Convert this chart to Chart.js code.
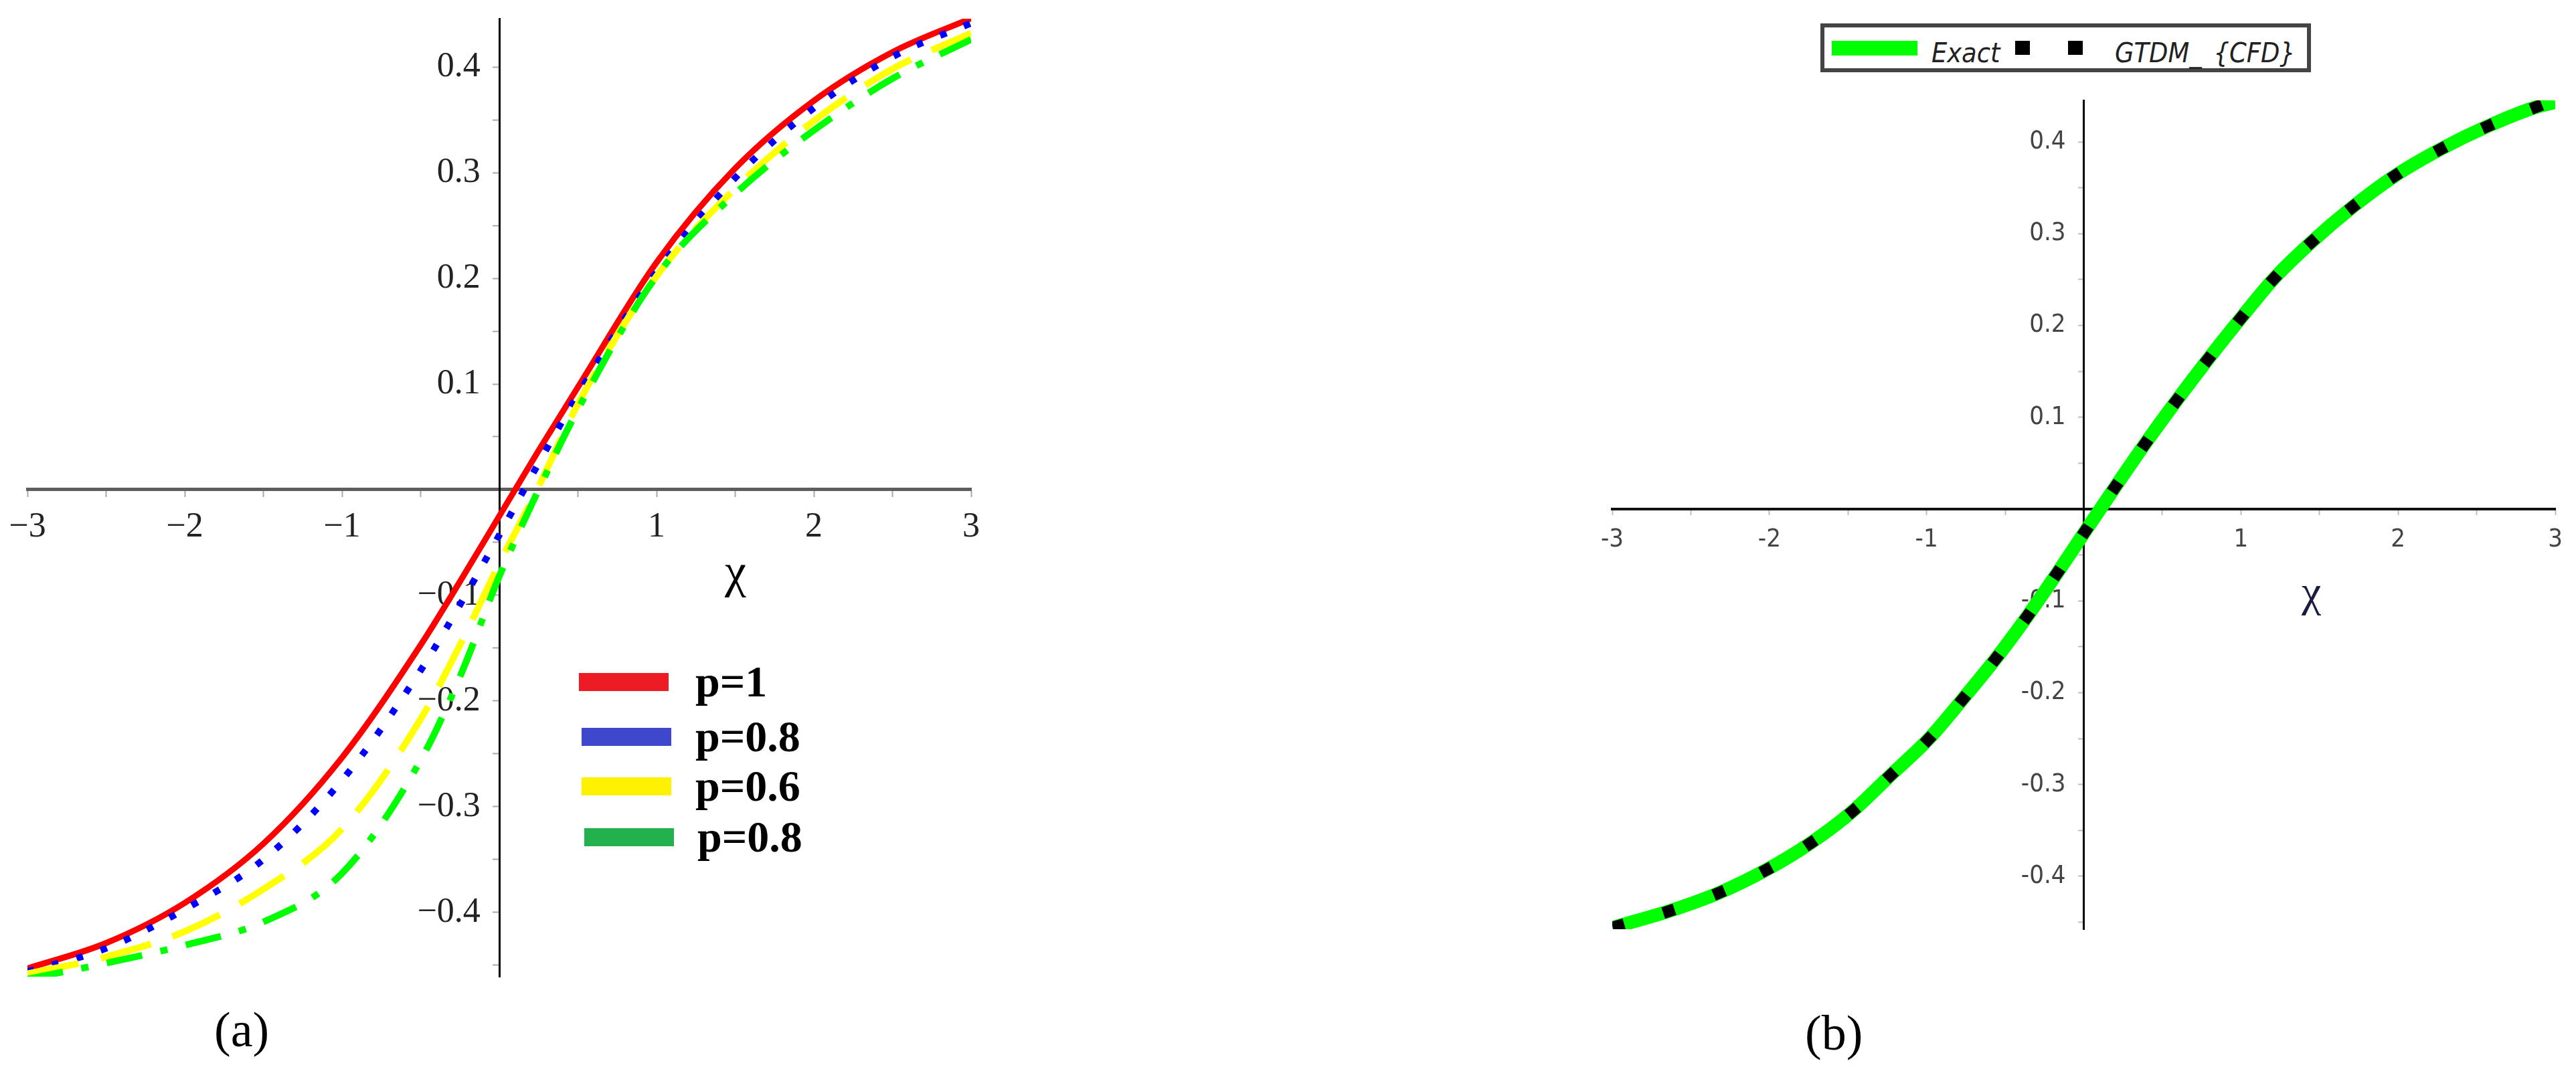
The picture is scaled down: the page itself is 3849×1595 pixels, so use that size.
<!DOCTYPE html>
<html>
<head>
<meta charset="utf-8">
<script src="https://cdn.jsdelivr.net/npm/chart.js@4.4.0/dist/chart.umd.min.js"></script>
<style>
html,body{margin:0;padding:0;background:#fff;}
#page{position:relative;width:3849px;height:1595px;overflow:hidden;background:#fff;}
canvas{position:absolute;top:0;}
.t{position:absolute;white-space:nowrap;line-height:1;margin:0;}
</style>
</head>
<body>
<div id="page">
<canvas id="chartA" width="1700" height="1595" style="left:0px"></canvas>
<canvas id="chartB" width="1749" height="1595" style="left:2100px"></canvas>
</div>
<script>
// ---------------- data ----------------
// panel (a)
const chiA = [-3, -2.5, -2, -1.5, -1, -0.5, -0.25, 0, 0.25, 0.5, 1, 1.5, 2, 2.5, 3];
const p1Values   = [-0.453, -0.429, -0.391, -0.335, -0.2535, -0.147, -0.087, -0.025, 0.037, 0.097, 0.215, 0.304, 0.368, 0.414, 0.446];
const p08Values  = [-0.456, -0.434, -0.397, -0.350, -0.275, -0.171, -0.109, -0.043, 0.025, 0.090, 0.206, 0.295, 0.361, 0.4095, 0.4415];
const p06Values  = [-0.458, -0.442, -0.418, -0.378, -0.321, -0.217, -0.147, -0.070, 0.003, 0.081, 0.202, 0.285, 0.349, 0.398, 0.432];
const p08bValues = [-0.463, -0.448, -0.431, -0.409, -0.363, -0.256, -0.177, -0.082, 0.000, 0.076, 0.202, 0.280, 0.340, 0.389, 0.426];
const seriesNamesA = ['p=1', 'p=0.8', 'p=0.6', 'p=0.8'];

// panel (b)
const chiExact   = [-3.00, -2.96, -2.64, -2.32, -2.02, -1.74, -1.47, -1.23, -0.99, -0.77, -0.56, -0.36, -0.17, 0.01, 0.20, 0.39, 0.59, 0.79, 1.00, 1.21, 1.45, 1.71, 1.98, 2.27, 2.57, 2.88, 3.00];
const exactValues = [-0.456, -0.454, -0.438, -0.418, -0.393, -0.364, -0.329, -0.290, -0.251, -0.207, -0.163, -0.117, -0.070, -0.024, 0.024, 0.071, 0.118, 0.163, 0.208, 0.251, 0.291, 0.329, 0.363, 0.392, 0.417, 0.438, 0.443];
const chiGtdm    = [-2.96, -2.64, -2.32, -2.02, -1.74, -1.47, -1.23, -0.99, -0.77, -0.56, -0.36, -0.17, 0.01, 0.20, 0.39, 0.59, 0.79, 1.00, 1.21, 1.45, 1.71, 1.98, 2.27, 2.57, 2.88];
const gtdmValues = [-0.454, -0.438, -0.418, -0.393, -0.364, -0.329, -0.290, -0.251, -0.207, -0.163, -0.117, -0.070, -0.024, 0.024, 0.071, 0.118, 0.163, 0.208, 0.251, 0.291, 0.329, 0.363, 0.392, 0.417, 0.438];
const seriesNamesB = ['Exact', 'GTDM_ {CFD}'];

// tick labels
const xTickValues = [-3, -2, -1, 1, 2, 3];
const xTickLabelsA = ['\u22123', '\u22122', '\u22121', '1', '2', '3'];
const xTickLabelsB = ['-3', '-2', '-1', '1', '2', '3'];
const originLabel = '0';
const yTickValues = [-0.4, -0.3, -0.2, -0.1, 0.1, 0.2, 0.3, 0.4];
const yTickLabelsA = ['\u22120.4', '\u22120.3', '\u22120.2', '\u22120.1', '0.1', '0.2', '0.3', '0.4'];
const yTickLabelsB = ['-0.4', '-0.3', '-0.2', '-0.1', '0.1', '0.2', '0.3', '0.4'];

// ---------------- helpers ----------------
function pts(xs, ys) { return xs.map((x, i) => ({x: x, y: ys[i]})); }
function lookup(vals, labels, v) {
  for (let i = 0; i < vals.length; i++) if (Math.abs(vals[i] - v) < 1e-6) return labels[i];
  return '';
}
function zeroPad(scale) { scale.paddingTop = 0; scale.paddingBottom = 0; scale.paddingLeft = 0; scale.paddingRight = 0; }

function buildChart(canvas, datasets, o) {
  const hidden = {display: false, drawTicks: false, drawOnChartArea: false};
  return new Chart(canvas, {
    type: 'line',
    data: {datasets: datasets},
    options: {
      responsive: false, animation: false, devicePixelRatio: 1,
      events: [],
      layout: {padding: o.padding},
      plugins: {legend: {display: false}, tooltip: {enabled: false}},
      elements: {point: {radius: 0}},
      scales: {
        // main axes: lines + tick marks, crossing at the origin
        x: {
          type: 'linear', axis: 'x', min: -3, max: 3, position: {y: 0},
          afterFit: zeroPad,
          border: {display: true, color: o.xBorderColor, width: o.xBorderWidth},
          grid: {drawOnChartArea: false, drawTicks: true, tickLength: o.tickLen, tickColor: o.tickColor, tickWidth: 2},
          ticks: {stepSize: 0.5, autoSkip: false, includeBounds: false, maxRotation: 0, minRotation: 0,
                  padding: o.xPad, color: o.labelColor, font: o.font,
                  callback: (v) => lookup(xTickValues, o.xLabels, v)}
        },
        y: {
          type: 'linear', axis: 'y', min: o.yMin, max: o.yMax, position: {x: 0},
          afterFit: zeroPad,
          border: {display: true, color: o.yBorderColor, width: o.yBorderWidth},
          grid: {drawOnChartArea: false, drawTicks: true, tickLength: o.tickLen, tickColor: o.tickColor, tickWidth: 2},
          ticks: {stepSize: 0.05, autoSkip: false, includeBounds: false, color: o.labelColor, font: o.font,
                  callback: () => ''}
        },
        // label carrier for the y tick labels, set a little left of the vertical axis
        yLab: {
          type: 'linear', axis: 'y', min: o.yMin, max: o.yMax, position: {x: -o.yLabelGap},
          afterFit: zeroPad,
          border: {display: false}, grid: hidden,
          ticks: {stepSize: 0.05, autoSkip: false, includeBounds: false, color: o.labelColor, font: o.font,
                  callback: (v) => lookup(yTickValues, o.yLabels, v)}
        },
        // label carrier for the "0" at the origin (drawn just left of the vertical axis)
        xZero: {
          type: 'linear', axis: 'x', min: -3 + o.zeroShift, max: 3 + o.zeroShift, position: {y: 0},
          afterFit: zeroPad,
          border: {display: false}, grid: hidden,
          ticks: {stepSize: 1, autoSkip: false, includeBounds: false, maxRotation: 0, minRotation: 0,
                  padding: o.xPad + o.tickLen, color: o.labelColor, font: o.font,
                  callback: (v) => (Math.abs(v) < 1e-6 ? originLabel : '')}
        }
      }
    }
  });
}

// ---------------- panel (a) ----------------
const lineBase = {showLine: true, fill: false, pointRadius: 0, cubicInterpolationMode: 'monotone',
                  borderCapStyle: 'butt', borderJoinStyle: 'round', xAxisID: 'x', yAxisID: 'y'};
buildChart(document.getElementById('chartA'), [
  Object.assign({}, lineBase, {label: seriesNamesA[0], data: pts(chiA, p1Values),   borderColor: '#ff0000', borderWidth: 9,  order: 4}),
  Object.assign({}, lineBase, {label: seriesNamesA[1], data: pts(chiA, p08Values),  borderColor: '#0000ff', borderWidth: 10, borderDash: [10, 28], order: 3}),
  Object.assign({}, lineBase, {label: seriesNamesA[2], data: pts(chiA, p06Values),  borderColor: '#ffff00', borderWidth: 10, borderDash: [78, 34], order: 2}),
  Object.assign({}, lineBase, {label: seriesNamesA[3], data: pts(chiA, p08bValues), borderColor: '#00ff00', borderWidth: 10, borderDash: [54, 28, 11, 28], order: 1})
], {
  padding: {left: 41, right: 249, top: 28, bottom: 135},
  yMin: -0.4608, yMax: 0.4456, yLabelGap: 0.12, zeroShift: 0.085,
  xBorderColor: '#5e5e5e', xBorderWidth: 5, yBorderColor: '#000000', yBorderWidth: 3,
  tickLen: 9, tickColor: '#a8a8a8', xPad: 16,
  labelColor: '#222222', font: {family: "'Liberation Serif', 'DejaVu Serif', serif", size: 52},
  xLabels: xTickLabelsA, yLabels: yTickLabelsA
});

// ---------------- panel (b) ----------------
buildChart(document.getElementById('chartB'), [
  Object.assign({}, lineBase, {label: seriesNamesB[0], data: pts(chiExact, exactValues), borderColor: '#00ff00', borderWidth: 20, order: 2}),
  {label: seriesNamesB[1], data: pts(chiGtdm, gtdmValues), showLine: false, order: 1, xAxisID: 'x', yAxisID: 'y',
   pointStyle: 'rect', pointRadius: 12.5, pointBorderWidth: 0, pointBackgroundColor: '#000000', pointBorderColor: '#000000',
   pointRotation: (ctx) => {
     const ch = ctx.chart, i = ctx.dataIndex;
     const xs = ch.scales.x, ys = ch.scales.y;
     if (!xs || !ys || i === undefined) return 0;
     const a = Math.max(i - 1, 0), b = Math.min(i + 1, chiGtdm.length - 1);
     const dx = xs.getPixelForValue(chiGtdm[b]) - xs.getPixelForValue(chiGtdm[a]);
     const dy = ys.getPixelForValue(gtdmValues[b]) - ys.getPixelForValue(gtdmValues[a]);
     return Math.atan2(dy, dx) * 180 / Math.PI;
   }}
], {
  padding: {left: 309, right: 31, top: 150, bottom: 206},
  yMin: -0.4576, yMax: 0.4452, yLabelGap: 0.115, zeroShift: 0.085,
  xBorderColor: '#111111', xBorderWidth: 4, yBorderColor: '#000000', yBorderWidth: 3,
  tickLen: 7, tickColor: '#bdbdbd', xPad: 16,
  labelColor: '#444444', font: {family: "'DejaVu Sans Condensed', 'Liberation Sans Narrow', 'DejaVu Sans', sans-serif", size: 38},
  xLabels: xTickLabelsB, yLabels: yTickLabelsB
});

// ---------------- text & legends (HTML) ----------------
const page = document.getElementById('page');
function addText(txt, left, top, css) {
  const d = document.createElement('div');
  d.className = 't'; d.textContent = txt;
  d.style.left = left + 'px'; d.style.top = top + 'px';
  d.style.cssText += css;
  page.appendChild(d); return d;
}
function addBox(left, top, w, h, css) {
  const d = document.createElement('div');
  d.style.cssText = 'position:absolute;box-sizing:border-box;left:' + left + 'px;top:' + top + 'px;width:' + w + 'px;height:' + h + 'px;' + css;
  page.appendChild(d); return d;
}

// legend (a)
const legendSwatchA = ['#ed1c24', '#3f48cc', '#fff200', '#22b14c'];
const legendRowsA = [{x: 865, y: 1019}, {x: 869, y: 1101}, {x: 869, y: 1175}, {x: 873, y: 1251}];
seriesNamesA.forEach((name, i) => {
  const r = legendRowsA[i];
  addBox(r.x, r.y - 13, 134, 27, 'background:' + legendSwatchA[i] + ';');
  addText(name, 1039 + (i === 3 ? 3 : 0), r.y - 38, "font:bold 66px 'Liberation Serif', serif;color:#000;");
});

// legend (b)
const legendFontB = "font:italic 41px 'DejaVu Sans Condensed','Liberation Sans Narrow','DejaVu Sans',sans-serif;color:#222;";
addBox(2720, 35, 733, 73, 'border:6px solid #444;background:#fff;');
addBox(2737, 61, 128, 22, 'background:#00ff00;');
addText(seriesNamesB[0], 2886, 55, legendFontB);
addBox(3011, 61, 22, 21, 'background:#000;');
addBox(3090, 61, 22, 21, 'background:#000;');
addText(seriesNamesB[1], 3160, 55, legendFontB + 'word-spacing:6px;');

// axis names and captions
addText('\u03c7', 1083, 813, "font:72px 'Liberation Serif', serif;color:#000;");
addText('\u03c7', 3439, 846, "font:66px 'Liberation Serif', serif;color:#1c1c40;");
addText('(a)', 320, 1497, "font:74px 'Liberation Serif', serif;color:#000;");
addText('(b)', 2697, 1502, "font:74px 'Liberation Serif', serif;color:#000;");
</script>
</body>
</html>
